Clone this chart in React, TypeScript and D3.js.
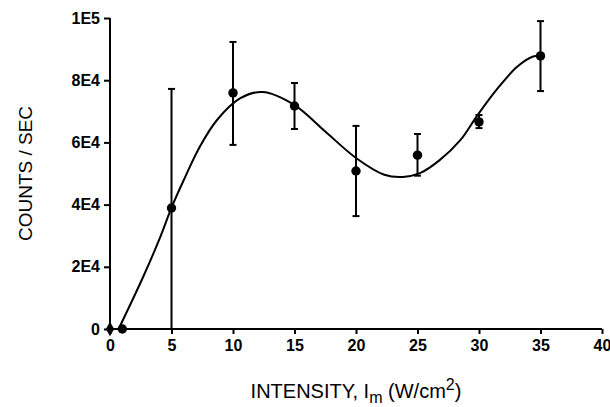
import React, { useRef, useEffect } from "react";
import * as d3 from "d3";

// measured points
const intensity = [0, 1, 5, 10, 15, 20, 25, 30, 35];
const counts = [0, 0, 38900, 75900, 71700, 50800, 55900, 66600, 87800];
const errHigh = [0, 0, 77200, 92300, 79100, 65300, 62700, 68800, 99000];
const errLow = [0, 0, 0, 59200, 64300, 36300, 49300, 64600, 76500];

// fitted curve
const curveX = [0.7, 2.7, 4.1, 5.0, 6.0, 7.3, 8.7, 10.6, 12.4, 15, 17.5, 20, 22.3, 23.8, 25.2, 26.8, 28.5, 29.8, 31.4, 33.1, 34.4, 35.1];
const curveY = [0, 16800, 29700, 39000, 47900, 58600, 67200, 74200, 76200, 72000, 63500, 55000, 49600, 48900, 50100, 54300, 60800, 68300, 76800, 84300, 87600, 87800];

const xTicks = [0, 5, 10, 15, 20, 25, 30, 35, 40];
const yTicks = [0, 20000, 40000, 60000, 80000, 100000];
const yTickLabels = ["0", "2E4", "4E4", "6E4", "8E4", "1E5"];

function App() {
    const svgRef = useRef<SVGSVGElement>(null);

    useEffect(() => {
        const w = 610;
        const h = 407;
        const left = 110, right = 602, top = 18, bottom = 329;
        const font = "'Liberation Sans', Arial, sans-serif";

        const svg = d3.select(svgRef.current)
            .attr("width", w)
            .attr("height", h);
        svg.selectAll("*").remove();

        const x = d3.scaleLinear().domain([0, 40]).range([left, right]);
        const y = d3.scaleLinear().domain([0, 100000]).range([bottom, top]);

        // axes
        const xAxis = svg.append("g")
            .attr("transform", `translate(0, ${bottom})`)
            .call(d3.axisBottom(x).tickValues(xTicks).tickSize(5).tickPadding(6).tickFormat(d3.format("d")));
        xAxis.select(".domain").attr("stroke-width", 2).attr("d", `M${left},0H${right}`);
        xAxis.selectAll(".tick line").attr("stroke-width", 2);
        xAxis.selectAll("text")
            .style("font-family", font)
            .style("font-weight", "bold")
            .style("font-size", "16px")
            .attr("fill", "#000");

        const yAxis = svg.append("g")
            .attr("transform", `translate(${left}, 0)`)
            .call(d3.axisLeft(y).tickValues(yTicks).tickSize(6).tickPadding(4).tickFormat((d, i) => yTickLabels[i]));
        yAxis.select(".domain").attr("stroke-width", 2).attr("d", `M0,${top}V${bottom}`);
        yAxis.selectAll(".tick line").attr("stroke-width", 2);
        yAxis.selectAll("text")
            .style("font-family", font)
            .style("font-weight", "bold")
            .style("font-size", "16px")
            .attr("fill", "#000");

        // fitted curve
        const line = d3.line<number>()
            .x(d => x(d))
            .y((d, i) => y(curveY[i]))
            .curve(d3.curveCatmullRom.alpha(0.5));
        svg.append("path")
            .datum(curveX)
            .attr("d", line)
            .attr("fill", "none")
            .attr("stroke", "#000")
            .attr("stroke-width", 2);

        // error bars
        const bars = intensity.map((v, i) => i).filter(i => errHigh[i] > errLow[i]);
        svg.selectAll(".err")
            .data(bars)
            .join("line")
            .attr("x1", i => x(intensity[i]))
            .attr("x2", i => x(intensity[i]))
            .attr("y1", i => y(errHigh[i]))
            .attr("y2", i => y(errLow[i]))
            .attr("stroke", "#000")
            .attr("stroke-width", 2);
        svg.selectAll(".capHi")
            .data(bars)
            .join("line")
            .attr("x1", i => x(intensity[i]) - 3.5)
            .attr("x2", i => x(intensity[i]) + 3.5)
            .attr("y1", i => y(errHigh[i]))
            .attr("y2", i => y(errHigh[i]))
            .attr("stroke", "#000")
            .attr("stroke-width", 2);
        svg.selectAll(".capLo")
            .data(bars.filter(i => errLow[i] > 0))
            .join("line")
            .attr("x1", i => x(intensity[i]) - 3.5)
            .attr("x2", i => x(intensity[i]) + 3.5)
            .attr("y1", i => y(errLow[i]))
            .attr("y2", i => y(errLow[i]))
            .attr("stroke", "#000")
            .attr("stroke-width", 2);

        // markers: diamond at origin, circles elsewhere
        svg.selectAll(".pt")
            .data(intensity.map((v, i) => i))
            .join("path")
            .attr("transform", i => `translate(${x(intensity[i])}, ${y(counts[i])})`)
            .attr("d", i => d3.symbol(i === 0 ? d3.symbolDiamond : d3.symbolCircle, i === 0 ? 60 : 70)())
            .attr("fill", "#000");

        // labels
        const xt = svg.append("text")
            .attr("x", (left + right) / 2)
            .attr("y", 398)
            .attr("text-anchor", "middle")
            .style("font-family", font)
            .style("font-size", "20px")
            .attr("fill", "#000");
        xt.append("tspan").text("INTENSITY, I");
        xt.append("tspan").attr("dy", 5).style("font-size", "16px").text("m");
        xt.append("tspan").attr("dy", -5).text(" (W/cm");
        xt.append("tspan").attr("dy", -8).style("font-size", "16px").text("2");
        xt.append("tspan").attr("dy", 8).text(")");

        svg.append("text")
            .attr("transform", `translate(32, ${(top + bottom) / 2}) rotate(-90)`)
            .attr("text-anchor", "middle")
            .style("font-family", font)
            .style("font-size", "19px")
            .attr("fill", "#000")
            .text("COUNTS / SEC");
    }, []);

    return (
        <div style={{ position: "absolute", left: 0, top: 0 }}>
            <svg ref={svgRef}></svg>
        </div>
    );
}

export default App;
